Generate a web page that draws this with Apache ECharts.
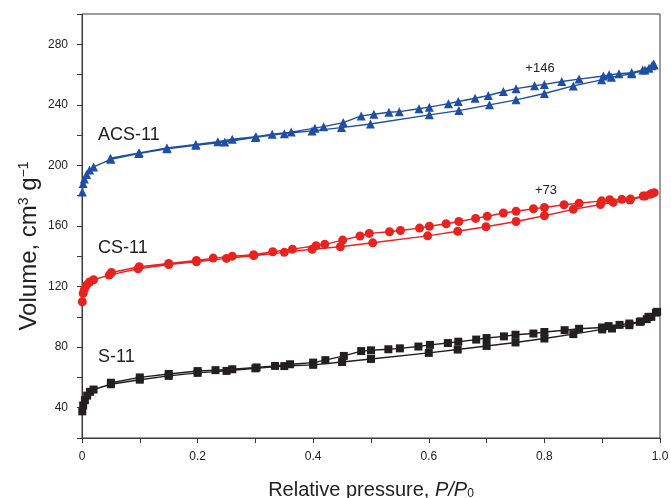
<!DOCTYPE html>
<html><head><meta charset="utf-8">
<script src="https://cdn.jsdelivr.net/npm/echarts@6/dist/echarts.min.js"></script>
<style>html,body{margin:0;padding:0;background:#fff}#c{width:671px;height:498px}</style>
</head><body><div id="c"></div>
<script>
// S-11 (black squares): adsorption then desorption, [P/P0, volume]
const s11Ads = [[0.0005,37.6],[0.002,41.5],[0.005,45],[0.009,48],[0.014,50.5],[0.02,52],[0.05,55.5],[0.1,58.5],[0.15,61],[0.2,63],[0.25,64.3],[0.3,66],[0.35,67.5],[0.4,68.3],[0.45,70.2],[0.5,72.2],[0.6,76.2],[0.65,78.4],[0.7,80.8],[0.75,83.1],[0.8,85.7],[0.85,88.6],[0.9,91.7],[0.917,92.3],[0.947,94.5],[0.967,97],[0.977,98.5],[0.985,100],[0.993,102.8]];
const s11Des = [[0.995,103.3],[0.98,100],[0.965,96.7],[0.947,95.6],[0.93,94.7],[0.911,93.9],[0.9,93],[0.86,92.1],[0.835,91.2],[0.8,90],[0.781,89],[0.75,88.2],[0.73,87.1],[0.7,86],[0.682,85],[0.651,83.6],[0.633,82.7],[0.602,81.5],[0.582,80.4],[0.55,79.2],[0.53,78.6],[0.5,77.9],[0.483,77.4],[0.453,74.2],[0.421,71.4],[0.4,69.8],[0.36,68.7],[0.334,67.6],[0.302,66.6],[0.26,65.4],[0.231,64.8],[0.2,64.2],[0.15,62.3],[0.1,60],[0.05,56.5]];
// CS-11 (red circles)
const cs11Ads = [[0.0005,110],[0.002,115.5],[0.004,118],[0.008,121],[0.013,123],[0.02,124.5],[0.047,127.6],[0.097,131.8],[0.15,134.6],[0.198,136.4],[0.25,138.6],[0.297,140.4],[0.35,142.6],[0.398,144.6],[0.447,146.3],[0.503,148.9],[0.598,153.5],[0.65,156.5],[0.699,159.5],[0.751,163],[0.8,166.8],[0.85,171],[0.897,174.2],[0.919,175.6],[0.948,177.2],[0.974,179.8],[0.983,181],[0.99,182]];
const cs11Des = [[0.986,181.5],[0.971,179.8],[0.949,177.8],[0.934,177.6],[0.913,177.3],[0.899,176.6],[0.86,175],[0.834,174],[0.8,172.2],[0.781,171.4],[0.751,169.7],[0.729,168.6],[0.701,166.4],[0.681,165],[0.652,163],[0.63,161.5],[0.601,159.8],[0.584,158.6],[0.551,157],[0.532,156.2],[0.497,155.1],[0.481,153.4],[0.451,150.7],[0.42,147.9],[0.405,147],[0.364,144.7],[0.33,143],[0.297,141],[0.26,140.1],[0.227,138.8],[0.198,137.2],[0.15,135.3],[0.099,133.1],[0.051,129.3]];
// ACS-11 (blue triangles)
const acs11Ads = [[0.0005,182.5],[0.002,188],[0.004,191],[0.008,194],[0.013,197],[0.02,199],[0.05,204],[0.098,207.8],[0.147,211],[0.197,213.3],[0.247,215.5],[0.3,218.5],[0.35,221],[0.398,222.8],[0.449,225],[0.499,227.4],[0.601,233.4],[0.652,236.2],[0.705,240],[0.751,243.3],[0.8,247.5],[0.85,252.5],[0.899,256.5],[0.916,258.3],[0.951,260.5],[0.974,263.1],[0.981,264.2],[0.99,266.4]];
const acs11Des = [[0.989,267],[0.986,265.8],[0.97,263.1],[0.951,261.3],[0.929,260.5],[0.912,259.8],[0.902,259.1],[0.86,257],[0.83,255.4],[0.8,253.5],[0.783,252.6],[0.751,250.7],[0.729,248.8],[0.703,246.2],[0.68,244.4],[0.651,242.2],[0.634,240.8],[0.601,238.5],[0.583,237.4],[0.549,235.5],[0.531,235.1],[0.505,233.8],[0.483,232.7],[0.452,228.3],[0.418,225.6],[0.403,224.6],[0.362,222],[0.329,220.6],[0.301,219],[0.26,217.3],[0.235,215.7],[0.197,213.8],[0.147,211.5],[0.099,208.3],[0.049,204.7]];

const seriesNames = ['S-11','CS-11','ACS-11'];
const offsets = ['+146','+73'];
const xTicks = [0,0.2,0.4,0.6,0.8,1.0];
const yTicks = [40,80,120,160,200,240,280];

const FONT = '"Liberation Sans", Arial, sans-serif';
const chart = echarts.init(document.getElementById('c'), null, {renderer:'canvas'});

function mk(name, ads, des, color, symbol, size){
  return {type:'line', name, data: ads.concat(des), symbol, symbolSize:size, showAllSymbol:true,
    lineStyle:{color, width:1.4}, itemStyle:{color}, animation:false, z:3};
}

chart.setOption({
  animation:false,
  grid:{left:82, right:11, top:14, bottom:60, show:true, borderColor:'#3a3a3a', borderWidth:1,
    containLabel:false, outerBoundsMode:'none'},
  xAxis:{type:'value', min:0, max:1, interval:0.1,
    axisLine:{show:true, lineStyle:{color:'#3a3a3a', width:1}},
    axisTick:{show:true, inside:false, length:5, lineStyle:{color:'#3a3a3a'}},
    splitLine:{show:false},
    axisLabel:{margin:13, fontSize:12, fontFamily:FONT, color:'#222',
      formatter:v=>{const t=xTicks.find(x=>Math.abs(x-v)<1e-6); return t===undefined?'':(t===1?'1.0':String(t));}},
    name:'Relative pressure, {i|P}{i|/}{i|P}{sub|0}', nameLocation:'middle', nameGap:42,
    nameTextStyle:{fontSize:20, fontFamily:FONT, color:'#222',
      rich:{i:{fontSize:20, fontStyle:'italic', fontFamily:FONT, color:'#222'},
            sub:{fontSize:12, fontFamily:FONT, color:'#222', verticalAlign:'bottom', padding:[8,0,0,0]}}}
  },
  yAxis:{type:'value', min:20, max:300, interval:20,
    axisLine:{show:true, lineStyle:{color:'#3a3a3a', width:1}},
    axisTick:{show:true, inside:false, length:5, lineStyle:{color:'#3a3a3a'}},
    splitLine:{show:false},
    axisLabel:{margin:14, fontSize:12, fontFamily:FONT, color:'#222',
      formatter:v=>yTicks.indexOf(v)>=0?String(v):''}
  },
  graphic:[
    {type:'text', x:29, y:246, rotation:Math.PI/2, style:{text:'Volume, cm{sup|3} g{sup|\u22121}', fontSize:24, fontFamily:FONT, fill:'#222', align:'center', verticalAlign:'middle',
      rich:{sup:{fontSize:14, fontFamily:FONT, fill:'#222', verticalAlign:'top', padding:[0,0,10,0]}}}},
    {type:'text', x:98, y:135, style:{text:seriesNames[2], fontSize:18, fontFamily:FONT, fill:'#222', align:'left', verticalAlign:'middle'}},
    {type:'text', x:98, y:248, style:{text:seriesNames[1], fontSize:18, fontFamily:FONT, fill:'#222', align:'left', verticalAlign:'middle'}},
    {type:'text', x:98, y:357, style:{text:seriesNames[0], fontSize:18, fontFamily:FONT, fill:'#222', align:'left', verticalAlign:'middle'}},
    {type:'text', x:540, y:68, style:{text:offsets[0], fontSize:13, fontFamily:FONT, fill:'#222', align:'center', verticalAlign:'middle'}},
    {type:'text', x:546, y:190, style:{text:offsets[1], fontSize:13, fontFamily:FONT, fill:'#222', align:'center', verticalAlign:'middle'}}
  ],
  series:[
    mk(seriesNames[0], s11Ads, s11Des, '#231f20', 'rect', 8),
    mk(seriesNames[1], cs11Ads, cs11Des, '#e8231f', 'circle', 9),
    mk(seriesNames[2], acs11Ads, acs11Des, '#1f4ea3', 'triangle', 9)
  ]
});
</script></body></html>
